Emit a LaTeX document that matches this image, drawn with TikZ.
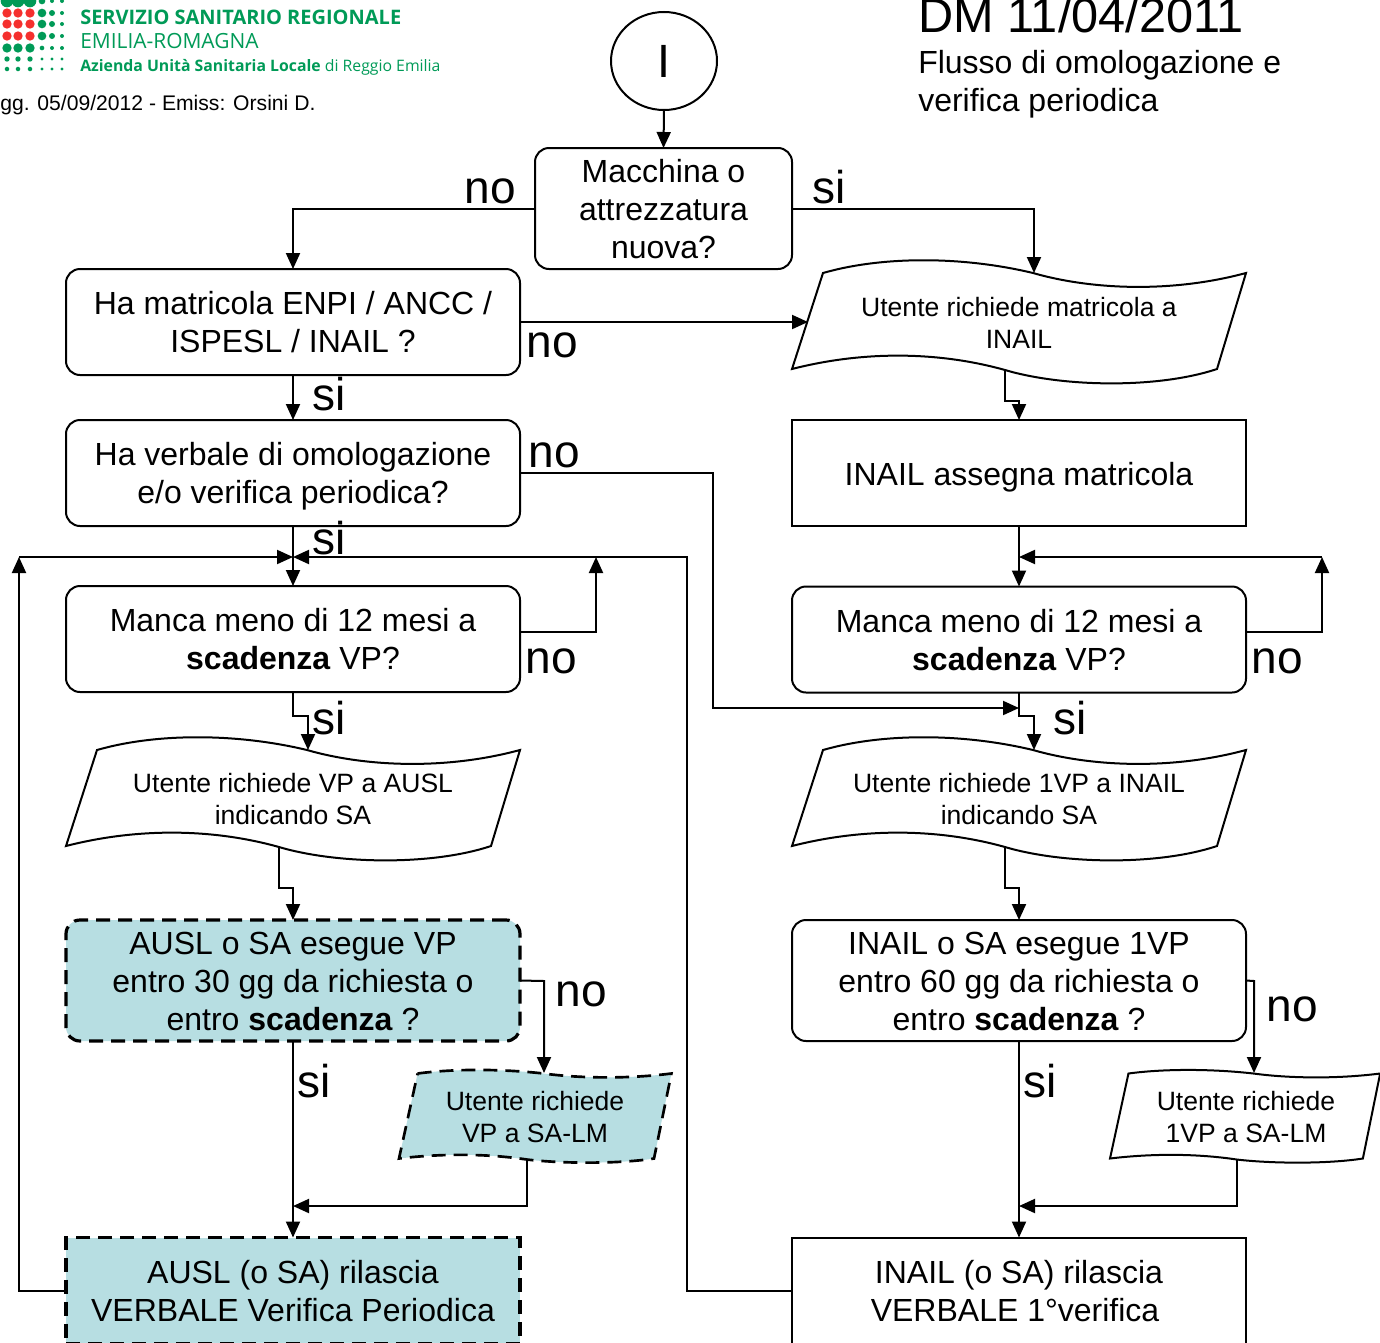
\documentclass[tikz,border=0pt]{standalone}
\usepackage{fontspec}
\setmainfont{Liberation Sans}
\newfontfamily\logofont{Open Sans}
\usetikzlibrary{arrows.meta,shapes.geometric}
\definecolor{tealfill}{HTML}{B7DEE2}
\definecolor{logogreen}{HTML}{009A57}
\definecolor{logored}{HTML}{F5302E}
\newcommand{\tstrutA}{\rule{0pt}{24.8pt}}
\newcommand{\tstrutB}{\rule[-7.2pt]{0pt}{7.2pt}}
\tikzset{
  conn/.style={line width=1.5pt,-{Triangle[length=12pt,width=10.5pt]}},
  main/.style={line width=1.5pt,draw=black,inner sep=0pt,outer sep=0pt,align=center,font=\fontsize{24}{28.6}\selectfont,
    execute at end node=\tstrutB},
  rbox/.style={main,rectangle,rounded corners=10.5pt,minimum width=340.5pt,minimum height=79.5pt},
  sbox/.style={main,rectangle,minimum width=340.5pt,minimum height=79.5pt},
  tall/.style={minimum height=90.75pt},
  teal/.style={fill=tealfill,dash pattern=on 10.5pt off 6pt,line width=2.4pt},
  wavetext/.style={inner sep=0pt,align=center,font=\fontsize{19.9}{24}\selectfont},
  biglabel/.style={inner sep=0pt,font=\fontsize{34.5}{36}\selectfont},
  wavenormal/.style={line width=1.5pt,draw=black,fill=white},
  waveteal/.style={line width=2pt,draw=black,fill=tealfill,dash pattern=on 10.5pt off 6pt},
  dot/.style={circle,inner sep=0pt,outer sep=0pt,minimum size=#1},
}
% name, x, y, xscale, height, amplitude, style
\newcommand{\wave}[7]{%
  \begin{scope}[shift={(#2,#3)},xscale=#4]
    \path[#7] (31,0) .. controls (90,-17*#6) and (170,-17*#6) .. (241,0)
      .. controls (300,17*#6) and (380,20*#6) .. (454,0)
      -- (425,#5) .. controls (365,#5+20*#6) and (270,#5+18*#6) .. (213,#5+1)
      .. controls (145,#5-18*#6) and (70,#5-18*#6) .. (0,#5) -- cycle;
    \coordinate (#1-bot) at (213,#5+1);
    \coordinate (#1-top) at (242,0);
    \coordinate (#1-left) at (16,49);
  \end{scope}}
\begin{document}
\begin{tikzpicture}[x=0.75pt,y=-0.75pt]
\useasboundingbox (0,0) rectangle (1380,1342);
% logo
\foreach \x/\s in {7/9.5,18/9.5,30/9.5,42/5,52/3,62/3}{\node[dot=\s pt,fill=logogreen] at (\x,1) {};}
\foreach \y in {13,24,36}{
  \foreach \x in {7,18,30}{\node[dot=7pt,fill=logored] at (\x,\y) {};}
  \node[dot=6.5pt,fill=logogreen] at (42,\y) {};
  \node[dot=4.5pt,fill=logogreen] at (52,\y) {};
  \node[dot=3pt,fill=logogreen] at (62,\y) {};
}
\foreach \x/\s in {7/7,18/7,30/7,42/3.5,52/3,62/3}{\node[dot=\s pt,fill=logogreen] at (\x,48) {};}
\foreach \y/\k in {59/4,69/3.4}{
  \foreach \x in {7,18,30}{\node[dot=\k pt,fill=logogreen] at (\x,\y) {};}
  \foreach \x in {42,52,62}{\node[dot=2.6pt,fill=logogreen] at (\x,\y) {};}
}
\node[anchor=base west,inner sep=0pt,text=logogreen] (logoA) at (80,24) {\logofont\bfseries\fontsize{15}{16}\selectfont SERVIZIO SANITARIO REGIONALE};
\node[anchor=base west,inner sep=0pt,text=logogreen] (logoB) at (80,48) {\logofont\fontsize{15.7}{16}\selectfont EMILIA-ROMAGNA};
\node[anchor=base west,inner sep=0pt,text=logogreen] (logoC) at (80,71) {\logofont\fontsize{11.85}{14}\selectfont\textbf{Azienda Unità Sanitaria Locale} di Reggio Emilia};
\node[anchor=base west,inner sep=0pt,font=\fontsize{15.85}{18}\selectfont] (agg) at (0,110) {gg. 05/09/2012 - Emiss: Orsini D.};
% title
\node[anchor=base west,inner sep=0pt,font=\fontsize{36.5}{38}\selectfont] (title) at (918,32) {DM 11/04/2011};
\node[anchor=base west,inner sep=0pt,font=\fontsize{24}{28}\selectfont] (title2) at (918,73) {Flusso di omologazione e};
\node[anchor=base west,inner sep=0pt,font=\fontsize{24}{28}\selectfont] (title3) at (918,111) {verifica periodica};
% shapes
\node[draw,line width=1.5pt,outer sep=0pt,ellipse,inner sep=0pt,minimum width=79.5pt,minimum height=73.5pt,font=\fontsize{35}{38}\selectfont] (start) at (664,61) {I};
\node[rbox,tall,minimum width=192.75pt] (q1) at (663.5,208.5) {\tstrutA Macchina o\\attrezzatura\\nuova?};
\node[rbox] (b1) at (293,322) {\tstrutA Ha matricola ENPI / ANCC /\\ISPESL / INAIL ?};
\node[rbox] (b2) at (293,473) {\tstrutA Ha verbale di omologazione\\e/o verifica periodica?};
\node[rbox] (b3) at (293,639) {\tstrutA Manca meno di 12 mesi a\\\textbf{scadenza} VP?};
\node[rbox,tall,teal] (b4) at (293,980.5) {\tstrutA AUSL o SA esegue VP\\entro 30 gg da richiesta o\\entro \textbf{scadenza} ?};
\node[sbox,teal] (b5) at (293,1290.5) {\tstrutA AUSL (o SA) rilascia\\VERBALE Verifica Periodica};
\node[sbox] (r1) at (1019,473) {\tstrutA\raisebox{-0.7pt}{INAIL assegna matricola}};
\node[rbox] (r2) at (1019,639.5) {\tstrutA Manca meno di 12 mesi a\\\textbf{scadenza} VP?};
\node[rbox,tall] (r3) at (1019,980.5) {\tstrutA INAIL o SA esegue 1VP\\entro 60 gg da richiesta o\\entro \textbf{scadenza} ?};
\node[sbox] (r4) at (1019,1290.5) {\tstrutA INAIL (o SA) rilascia\\VERBALE 1°verifica\hspace*{6pt}};
% waves
\wave{w1}{792}{273}{1}{96}{1}{wavenormal}
\wave{w2}{66}{750}{1}{96}{1}{wavenormal}
\wave{w3}{792}{750}{1}{96}{1}{wavenormal}
\wave{w4}{399}{1073.5}{0.60}{85}{0.28}{waveteal}
\wave{w5}{1110}{1073.5}{0.595}{85}{0.28}{wavenormal}
\node[wavetext] (w1t) at (1019,323) {Utente richiede matricola a\\INAIL};
\node[wavetext] (w2t) at (293,799) {Utente richiede VP a AUSL\\indicando SA};
\node[wavetext] (w3t) at (1019,799) {Utente richiede 1VP a INAIL\\indicando SA};
\node[wavetext] (w4t) at (535,1117) {Utente richiede\\VP a SA-LM};
\node[wavetext] (w5t) at (1246,1117) {Utente richiede\\1VP a SA-LM};
% junctions
\coordinate (jL) at (293,557);
\coordinate (jR) at (1019,557);
\coordinate (jFar) at (19,557);
\coordinate (jUp) at (596,557);
\coordinate (jUpR) at (1322,557);
\coordinate (jMid) at (687,557);
\coordinate (jNo) at (1019,708);
\coordinate (jA) at (293,1206);
\coordinate (jB) at (1019,1206);
% connectors
\draw[conn] (start.south) -- (q1.north);
\draw[conn] (q1.west) -| (b1.north);
\draw[conn] (q1.east) -| (w1-top);
\draw[conn] (b1.south) -- (b2.north);
\draw[conn] (b1.east) -- (w1-left);
\draw[conn] (w1-bot) -- (1005,401) -- (1019,401) -- (r1.north);
\draw[conn] (b2.south) -- (b3.north);
\draw[conn] (b2.east) -- (713,473) -- (713,708) -- (jNo);
\draw[conn] (r1.south) -- (r2.north);
\draw[conn] (r2.east |- 0,632) -- (1322,632) -- (jUpR);
\draw[conn] (jUpR) -- (jR);
\draw[conn] (b3.east |- 0,632) -- (596,632) -- (jUp);
\draw[conn] (r4.west) -| (jMid) -- (jL);
\draw[conn] (b5.west) -| (jFar);
\draw[conn] (jFar) -- (jL);
\draw[conn] (b3.south) -- (293,716) -- (308,716) -- (w2-top);
\draw[conn] (r2.south) -- (1019,716) -- (1034,716) -- (w3-top);
\draw[conn] (w2-bot) -- (279,888) -- (293,888) -- (b4.north);
\draw[conn] (w3-bot) -- (1005,888) -- (1019,888) -- (r3.north);
\draw[conn] (b4.east) -- (544,981) -- (544,1073);
\draw[conn] (b4.south) -- (b5.north);
\draw[conn] (w4-bot) |- (jA);
\draw[conn] (r3.east) -- (1254,981) -- (1254,1073);
\draw[conn] (r3.south) -- (r4.north);
\draw[conn] (w5-bot) |- (jB);
% labels
\node[biglabel] (l1) at (490,191) {no};
\node[biglabel] (l2) at (829,187) {si};
\node[biglabel] (l3) at (329,394) {si};
\node[biglabel] (l4) at (552,345) {no};
\node[biglabel] (l5) at (554,455) {no};
\node[biglabel] (l6) at (329,538) {si};
\node[biglabel] (l7) at (551,661) {no};
\node[biglabel] (l8) at (1277,661) {no};
\node[biglabel] (l9) at (329,718) {si};
\node[biglabel] (l10) at (1070,718) {si};
\node[biglabel] (l11) at (581,994) {no};
\node[biglabel] (l12) at (1292,1009) {no};
\node[biglabel] (l13) at (314,1081) {si};
\node[biglabel] (l14) at (1040,1081) {si};
\end{tikzpicture}
\end{document}
